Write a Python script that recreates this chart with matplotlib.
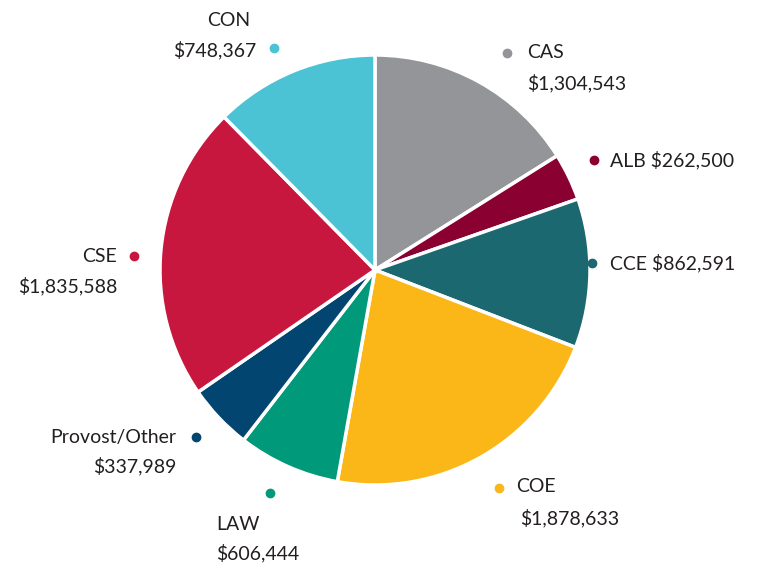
import matplotlib.pyplot as plt

# budget by unit, clockwise from top
units = ['CAS', 'ALB', 'CCE', 'COE', 'LAW', 'Provost/Other', 'CSE', 'CON']
amounts = [1304543, 262500, 862591, 1878633, 606444, 337989, 1835588, 748367]
# slice sizes as drawn in the chart (degrees)
slice_deg = [57.9, 12.8, 40.4, 79.0, 27.6, 17.7, 80.0, 44.6]
colors = ['#939598', '#8a0030', '#1b6870', '#fbb718', '#00997a', '#024571', '#c8173e', '#4bc3d4']

W, H = 781, 571
fig = plt.figure(figsize=(W / 100, H / 100), dpi=100)
ax = fig.add_axes([0, 0, 1, 1])

ax.pie(slice_deg, colors=colors, startangle=90, counterclock=False,
       center=(375, H - 270), radius=215,
       wedgeprops=dict(edgecolor='white', linewidth=2.5))
ax.set_xlim(0, W)
ax.set_ylim(0, H)
ax.set_aspect('equal')
ax.axis('off')


def money(v):
    return '${:,}'.format(v)


txt = dict(fontsize=14, family='Lato', color='#231f20', va='center')

# label layout in pixel coords (from top): dot, name line, amount line, alignment
layout = {
    'CON': ((274, 48), (229, 20, 'center'), (256, 50, 'right')),
    'CAS': ((507, 53), (527, 52, 'left'), (527, 83, 'left')),
    'ALB': ((594, 160), (610, 160, 'left'), None),
    'CCE': ((592, 263), (610, 263, 'left'), None),
    'COE': ((499, 488), (516, 487, 'left'), (520, 518, 'left')),
    'LAW': ((270, 493), (216, 524, 'left'), (216, 553, 'left')),
    'Provost/Other': ((196, 437), (176, 437, 'right'), (176, 466, 'right')),
    'CSE': ((134, 256), (117, 256, 'right'), (117, 286, 'right')),
}

for u, v, c in zip(units, amounts, colors):
    dot, name, amt = layout[u]
    ax.plot(dot[0], H - dot[1], 'o', color=c, markersize=6)
    if amt is None:
        ax.text(name[0], H - name[1], u + ' ' + money(v), ha=name[2], **txt)
    else:
        ax.text(name[0], H - name[1], u, ha=name[2], **txt)
        ax.text(amt[0], H - amt[1], money(v), ha=amt[2], **txt)

fig.savefig('out.png', dpi=100)
